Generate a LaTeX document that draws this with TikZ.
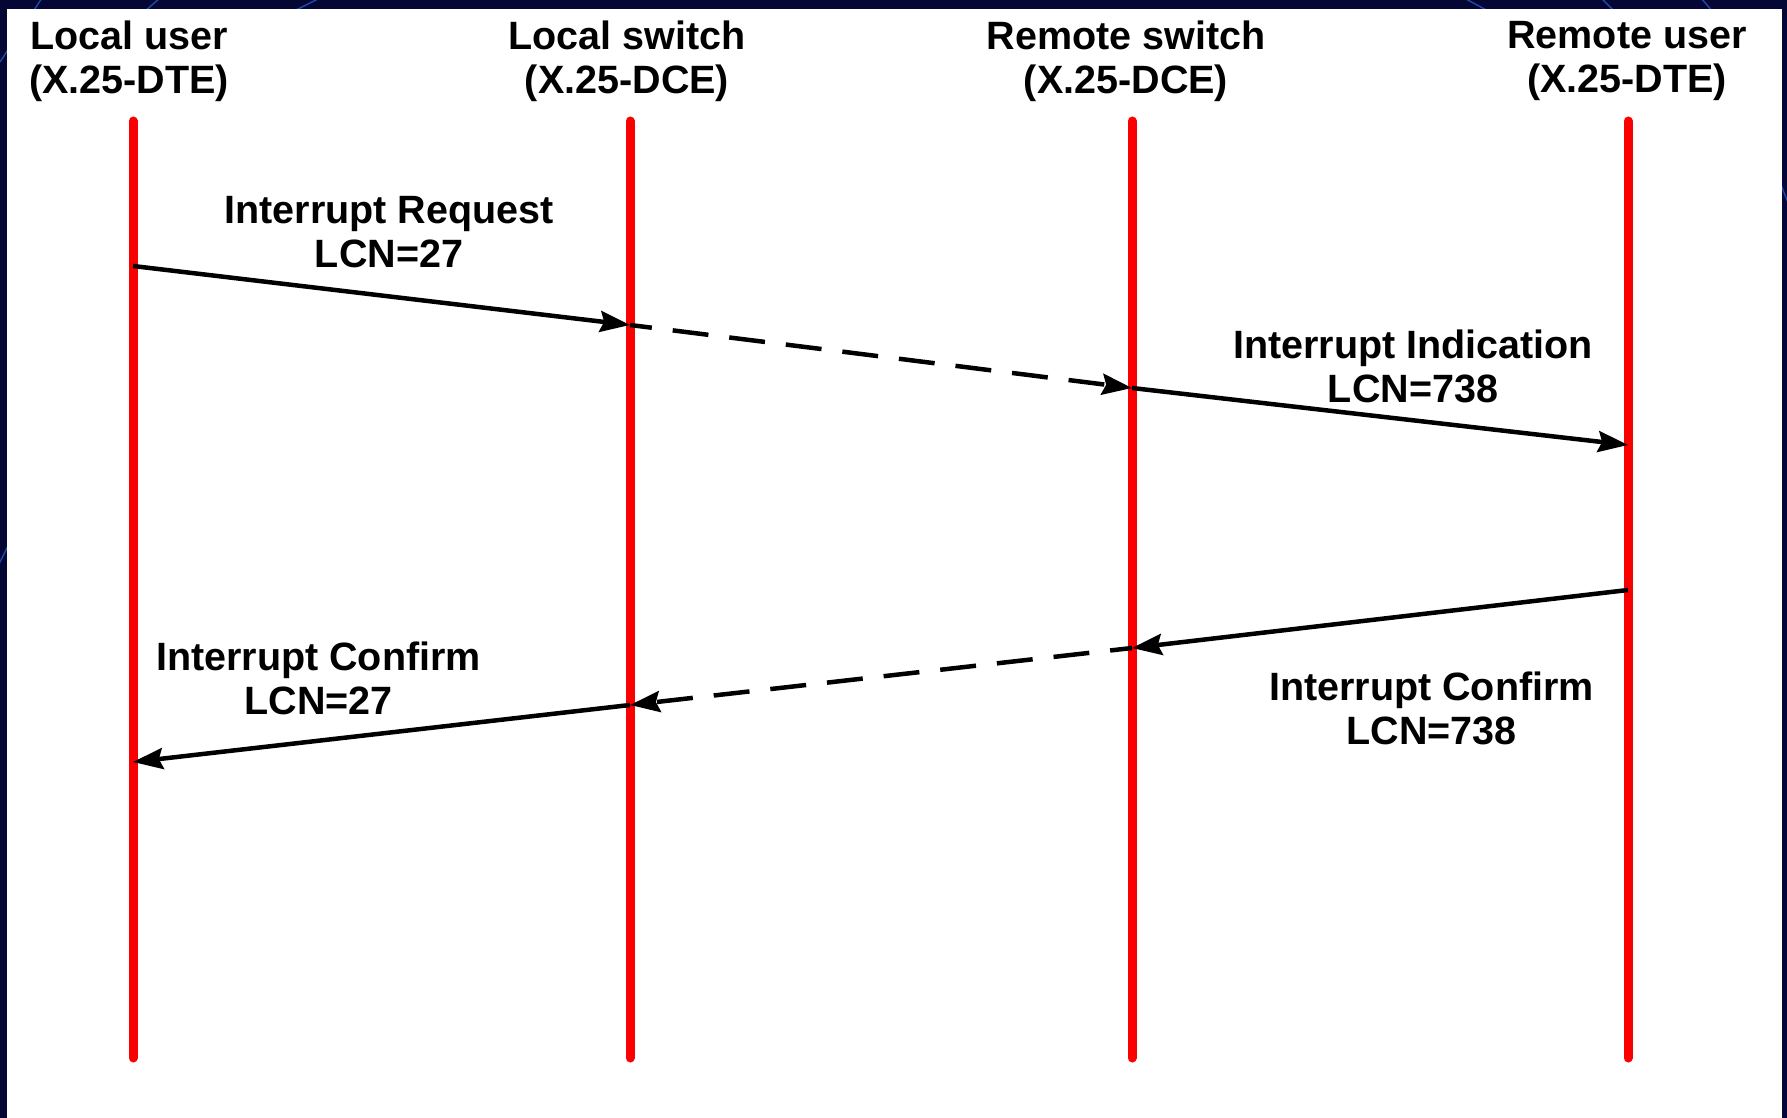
\documentclass[tikz,border=0pt]{standalone}
\usepackage{fontspec}
\setmainfont{Liberation Sans}
\usetikzlibrary{arrows.meta}
\definecolor{framenavy}{RGB}{4,6,52}
\definecolor{swirl}{RGB}{40,90,200}
\definecolor{lifered}{RGB}{250,0,0}

\begin{document}
\begin{tikzpicture}[x=1pt,y=-1pt,
  lifeline/.style={draw=lifered,line width=9pt,line cap=round},
  msg/.style={draw=black,line width=4.5pt,-{Stealth[length=30pt,width=21pt,inset=4pt]}},
  relay/.style={msg,dash pattern=on 36pt off 21pt,dash phase=14pt},
  headtext/.style={font=\fontsize{39.5}{44}\selectfont\bfseries,align=center,inner sep=0pt},
  msgtext/.style={headtext}]

\useasboundingbox (0,0) rectangle (1787,1118);

% dark frame with faint decorative strokes, then the white sheet
\fill[framenavy] (0,0) rectangle (1787,1118);
\begin{scope}[swirl,line width=1.4pt,opacity=0.8]
  \draw (0,62) -- (42,-2);
  \draw (144,12) -- (160,-2);
  \draw (292,12) -- (320,-2);
  \draw (1464,-2) -- (1490,12);
  \draw (1601,-2) -- (1615,12);
  \draw (1701,-2) -- (1713,12);
  \draw (1779,180) -- (1789,205);
  \draw (-2,566) -- (9,544);
\end{scope}
\fill[white] (7,9) rectangle (1782,1118);

% column headings
\node[headtext] (lu) at (129,61) {Local user\\(X.25-DTE)};
\node[headtext] (ls) at (627,61) {Local switch\\(X.25-DCE)};
\node[headtext] (rs) at (1126,61) {Remote switch\\(X.25-DCE)};
\node[headtext] (ru) at (1627,61) {Remote user\\(X.25-DTE)};

% lifelines
\coordinate (lu-top) at (133,121);  \coordinate (lu-bot) at (133,1058);
\coordinate (ls-top) at (630,121);  \coordinate (ls-bot) at (630,1058);
\coordinate (rs-top) at (1132,121); \coordinate (rs-bot) at (1132,1058);
\coordinate (ru-top) at (1628,121); \coordinate (ru-bot) at (1628,1058);
\draw[lifeline] (lu-top) -- (lu-bot);
\draw[lifeline] (ls-top) -- (ls-bot);
\draw[lifeline] (rs-top) -- (rs-bot);
\draw[lifeline] (ru-top) -- (ru-bot);

% message points on the lifelines
\coordinate (req-a) at (133,266);
\coordinate (req-b) at (630,325);
\coordinate (req-c) at (1132,388);
\coordinate (ind-d) at (1628,445);
\coordinate (cnf-d) at (1628,590);
\coordinate (cnf-c) at (1132,648);
\coordinate (cnf-b) at (630,705);
\coordinate (cnf-a) at (133,762);

% request / indication
\draw[msg]   (req-a) -- (req-b);
\draw[relay] (req-b) -- (req-c);
\draw[msg]   (req-c) -- (ind-d);

% confirmations
\draw[msg]   (cnf-d) -- (cnf-c);
\draw[relay] (cnf-c) -- (cnf-b);
\draw[msg]   (cnf-b) -- (cnf-a);

% message labels
\node[msgtext] (t-req)  at (389,232)   {Interrupt Request\\LCN=27};
\node[msgtext] (t-ind)  at (1413,366)  {Interrupt Indication\\LCN=738};
\node[msgtext] (t-cnfl) at (318.5,678.5) {Interrupt Confirm\\LCN=27};
\node[msgtext] (t-cnfr) at (1431.5,708) {Interrupt Confirm\\LCN=738};
\end{tikzpicture}
\end{document}
